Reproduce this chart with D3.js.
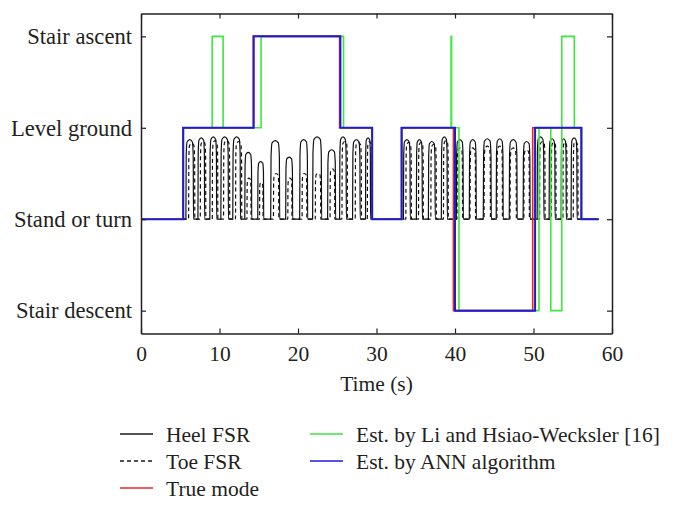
<!DOCTYPE html>
<html><head><meta charset="utf-8">
<script src="https://cdn.jsdelivr.net/npm/d3@7"></script>
<style>body{margin:0;background:#fff}svg{display:block}text{font-family:"Liberation Serif","Times New Roman",serif;fill:#231f20}</style>
</head><body><svg id="c" width="676" height="509"></svg>
<script>
// Mode labels (value 0..3)
const modeLabels = ["Stair descent","Stand or turn","Level ground","Stair ascent"];
const xTicks = [0,10,20,30,40,50,60];
// Step signals: [time(s), mode value]
const trueMode = [[0,1],[5.38,2],[14.3,3],[25.3,2],[29.45,1],[33.2,2],[39.8,0],[49.9,2],[56.1,1],[58.3,1]];
const annMode  = [[0,1],[5.38,2],[14.36,3],[25.4,2],[29.45,1],[33.2,2],[40.0,0],[50.2,2],[56.1,1],[58.3,1]];
const liMode   = [[0,1],[5.38,2],[9.07,3],[10.46,2],[15.3,3],[25.8,2],[29.45,1],[33.2,2],[39.5,3],[39.56,2],[40.5,0],[50.7,2],[52.2,0],[53.6,3],[55.2,2],[56.1,1],[58.3,1]];
// FSR pulses: [on(s), off(s), peak level]
const heelPulses = [
 [5.72,6.69,1.87],[7.25,8.11,1.89],[8.77,9.64,1.90],[10.17,11.14,1.90],[11.69,12.67,1.90],
 [13.22,14.11,1.73],[14.87,15.63,1.63],[16.52,17.67,1.86],[18.43,19.32,1.68],[20.21,21.23,1.87],
 [21.86,23.01,1.90],[23.77,24.79,1.76],[25.30,26.16,1.90],[26.95,27.92,1.87],[28.60,29.24,1.89],
 [33.43,34.30,1.87],[35.08,35.84,1.87],[36.61,37.48,1.85],[38.26,39.02,1.90],
 [40.17,41.06,1.87],[41.82,42.71,1.87],[43.60,44.62,1.88],[45.25,46.14,1.88],[46.91,47.92,1.87],[48.68,49.57,1.85],
 [50.46,51.33,1.90],[51.99,52.75,1.88],[53.52,54.17,1.88],[54.79,55.55,1.89]];
const toePulses = [
 [6.06,6.86,1.83],[7.55,8.26,1.85],[9.08,9.79,1.86],[10.51,11.31,1.86],[12.04,12.84,1.85],
 [13.50,14.02,1.45],[15.10,15.55,1.40],[16.87,17.56,1.50],[18.70,19.23,1.45],[20.52,21.13,1.50],
 [22.20,22.90,1.50],[24.08,24.69,1.55],[25.60,26.31,1.85],[27.29,28.09,1.84],[28.83,29.36,1.85],
 [33.74,34.45,1.84],[35.35,35.97,1.84],[36.92,37.63,1.82],[38.53,39.15,1.86],
 [40.26,40.97,1.78],[41.91,42.62,1.78],[43.70,44.52,1.80],[45.34,46.05,1.80],[47.01,47.82,1.78],[48.77,49.48,1.76],
 [50.77,51.48,1.85],[52.26,52.88,1.84],[53.75,54.28,1.84],[55.06,55.68,1.85]];
const signalStart = 5.3, signalEnd = 58.3;
const legendItems = [
 {name:"Heel FSR", color:"#1a1a1a", dash:null},
 {name:"Toe FSR", color:"#1a1a1a", dash:"4,3"},
 {name:"True mode", color:"#e8262a", dash:null},
 {name:"Est. by Li and Hsiao-Wecksler [16]", color:"#3be83b", dash:null},
 {name:"Est. by ANN algorithm", color:"#1c1cd6", dash:null}];

const svg = d3.select("#c");
const x = d3.scaleLinear().domain([0,60]).range([141,612]);
const y = d3.scaleLinear().domain([-0.25,3.25]).range([333.5,13.5]);

// pulse train -> points (arch shape per pulse)
function train(pulses){
  const pts=[[signalStart,1]];
  pulses.forEach(([a,b,p])=>{
    const d=b-a,h=p-1;
    pts.push([a,1],[a+0.04*d,1+0.8*h],[a+0.15*d,1+0.97*h],[a+0.5*d,1+h],[a+0.85*d,1+0.97*h],[a+0.96*d,1+0.8*h],[b,1]);
  });
  pts.push([signalEnd,1]);
  return pts;
}
const smooth = d3.line().x(d=>x(d[0])).y(d=>y(d[1])).curve(d3.curveMonotoneX);
const step = d3.line().x(d=>x(d[0])).y(d=>y(d[1])).curve(d3.curveStepAfter);

const g = svg.append("g");
g.append("path").attr("d",smooth(train(heelPulses))).attr("fill","none").attr("stroke","#111").attr("stroke-width",1.2);
g.append("path").attr("d",smooth(train(toePulses))).attr("fill","none").attr("stroke","#111").attr("stroke-width",1.2).attr("stroke-dasharray","4,3");
g.append("path").attr("d",step(liMode)).attr("fill","none").attr("stroke","#3be83b").attr("stroke-width",1.6);
g.append("path").attr("d",step(trueMode)).attr("fill","none").attr("stroke","#e8262a").attr("stroke-width",1.6);
g.append("path").attr("d",step(annMode)).attr("fill","none").attr("stroke","#1c1cd6").attr("stroke-width",2);

// axes (ticks inward on all sides)
const axB = d3.axisBottom(x).tickValues(xTicks).tickSizeInner(-5).tickSizeOuter(0).tickPadding(12);
const axT = d3.axisTop(x).tickValues(xTicks).tickSizeInner(-5).tickSizeOuter(0).tickFormat("");
const axL = d3.axisLeft(y).tickValues([0,1,2,3]).tickSizeInner(-5).tickSizeOuter(0).tickPadding(9).tickFormat(d=>modeLabels[d]);
const axR = d3.axisRight(y).tickValues([0,1,2,3]).tickSizeInner(-5).tickSizeOuter(0).tickFormat("");
function style(sel){sel.selectAll("path").attr("stroke","#231f20").attr("stroke-width",1.5);
  sel.selectAll("line").attr("stroke","#231f20").attr("stroke-width",1.2);
  sel.selectAll("text").attr("font-family",'"Liberation Serif",serif').attr("fill","#231f20");}
svg.append("g").attr("transform",`translate(0,${y.range()[0]})`).call(axB).call(style).selectAll("text").attr("font-size",21.5);
svg.append("g").attr("transform",`translate(0,${y.range()[1]})`).call(axT).call(style);
svg.append("g").attr("transform",`translate(${x.range()[0]},0)`).call(axL).call(style).selectAll("text").attr("font-size",22.6);
svg.append("g").attr("transform",`translate(${x.range()[1]},0)`).call(axR).call(style);

svg.append("text").attr("x",(x(0)+x(60))/2).attr("y",391).attr("text-anchor","middle").attr("font-size",21.5).text("Time (s)");

// legend
const legPos = [[120,434],[120,461],[120,488],[310,434],[310,461]];
legendItems.forEach((it,i)=>{
  const [lx,ly]=legPos[i];
  svg.append("line").attr("x1",lx).attr("x2",lx+33).attr("y1",ly).attr("y2",ly)
    .attr("stroke",it.color).attr("stroke-width",1.3).attr("stroke-dasharray",it.dash);
  svg.append("text").attr("x",lx+46).attr("y",ly+7.5).attr("font-size",21.5).text(it.name);
});
</script></body></html>
